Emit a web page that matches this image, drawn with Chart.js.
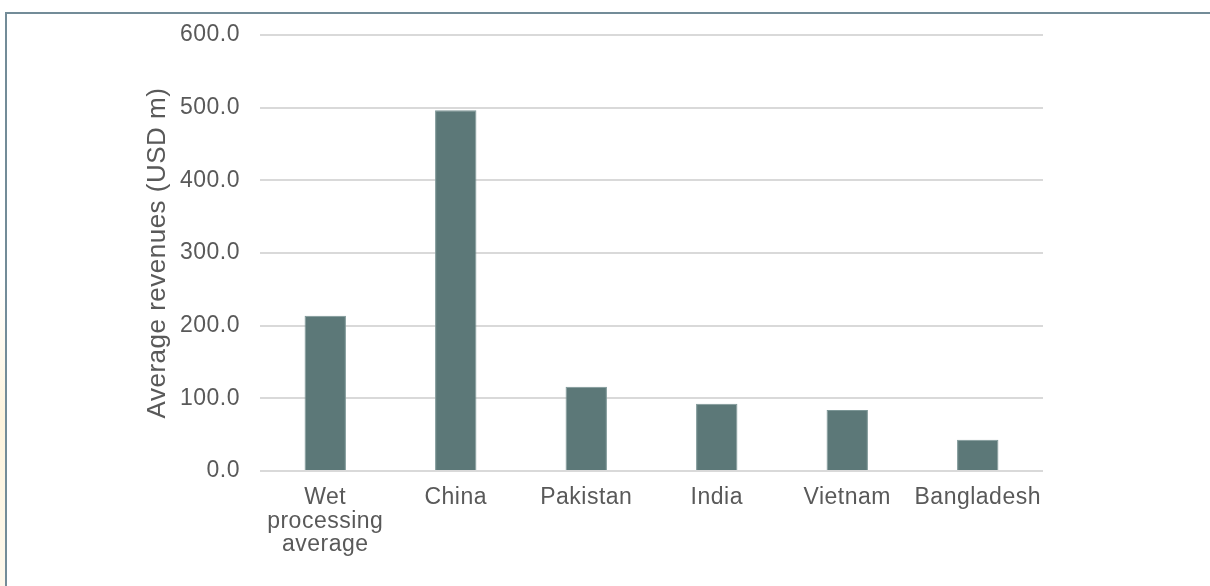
<!DOCTYPE html>
<html>
<head>
  <title>Average revenues</title>
  <script src="https://cdn.jsdelivr.net/npm/chart.js"></script>
  <style>
    body {
      margin: 0;
      background: #fff;
      font-family: "Liberation Sans", Arial, sans-serif;
    }
    .frame-top {
      position: absolute; left: 5px; top: 12px; width: 1205px; height: 2px;
      background: #738c98;
    }
    .frame-left {
      position: absolute; left: 5px; top: 12px; width: 2px; height: 574px;
      background: #738c98;
    }
    .glow {
      position: absolute; left: 0; top: 280px; width: 5px; height: 306px;
      background: linear-gradient(#fff, #fdf3dc 45%, #fdf8ec);
    }
    .chart-container {
      position: absolute; left: 0; top: 0; width: 1210px; height: 586px;
    }
  </style>
</head>
<body>
  <div class="glow"></div>
  <div class="chart-container">
    <canvas id="revChart"></canvas>
  </div>
  <div class="frame-top"></div>
  <div class="frame-left"></div>
  <script>
    // values
    const categories = [['Wet', 'processing', 'average'], 'China', 'Pakistan', 'India', 'Vietnam', 'Bangladesh'];
    const revenues = [213.5, 496.4, 116, 92.5, 84, 43];
    const yTicks = [0, 100, 200, 300, 400, 500, 600];

    const textColor = '#595959';

    // canvas text in the original is slightly spaced out
    const spacing = {
      id: 'spacing',
      beforeDraw(chart) {
        chart.ctx.letterSpacing = '0.5px';
      }
    };

    new Chart(document.getElementById('revChart'), {
      type: 'bar',
      data: {
        labels: categories,
        datasets: [{
          data: revenues,
          backgroundColor: '#5c7878',
          borderColor: '#7c9696',
          borderWidth: 1,
          barPercentage: 0.317,
          categoryPercentage: 1
        }]
      },
      options: {
        responsive: true,
        maintainAspectRatio: false,
        animation: false,
        layout: { padding: { left: 142, top: 35, right: 167, bottom: 0 } },
        plugins: {
          legend: { display: false },
          tooltip: { enabled: false }
        },
        scales: {
          x: {
            grid: { display: false, drawTicks: false },
            border: { display: false },
            ticks: {
              color: textColor,
              padding: 15,
              maxRotation: 0,
              autoSkip: false,
              font: { family: '"Liberation Sans", Arial, sans-serif', size: 23, lineHeight: 1.02 }
            },
            afterFit: s => { s.height = 115; }
          },
          y: {
            min: 0,
            max: 600,
            afterBuildTicks: s => { s.ticks = yTicks.map(v => ({ value: v })); },
            grid: { color: '#d9d9d9', lineWidth: 2, drawTicks: false },
            border: { display: false },
            ticks: {
              color: textColor,
              padding: 20,
              font: { family: '"Liberation Sans", Arial, sans-serif', size: 23 },
              callback: v => v.toFixed(1)
            },
            title: {
              display: true,
              text: 'Average revenues (USD m)',
              color: textColor,
              padding: 0,
              font: { family: '"Liberation Sans", Arial, sans-serif', size: 26, lineHeight: 1.2 }
            },
            afterFit: s => { s.width = 118; }
          }
        }
      },
      plugins: [spacing]
    });
  </script>
</body>
</html>
